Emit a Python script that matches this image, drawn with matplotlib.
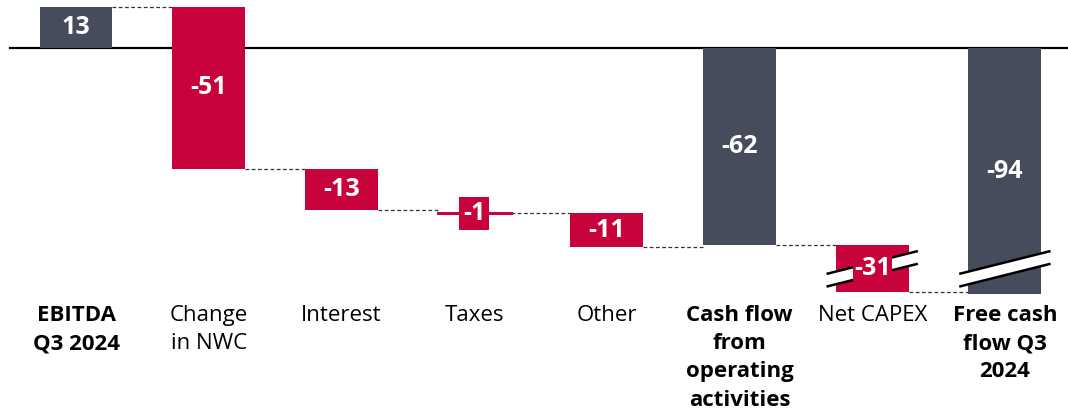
import matplotlib.pyplot as plt

# data (EUR m)
categories = ['EBITDA\nQ3 2024', 'Change\nin NWC', 'Interest', 'Taxes', 'Other',
              'Cash flow\nfrom\noperating\nactivities', 'Net CAPEX', 'Free cash\nflow Q3\n2024']
values = [13, -51, -13, -1, -11, -62, -31, -94]
is_total = [True, False, False, False, False, True, False, True]
broken = [False, False, False, False, False, False, True, True]

RED = '#C8023B'
NAVY = '#474C5D'
BREAK_AT = -62      # values below this are squeezed
SQUEEZE = 0.48


def disp(v):
    # squeeze the part of the scale below the break
    return v if v >= BREAK_AT else BREAK_AT + (v - BREAK_AT) * SQUEEZE


plt.rcParams['font.family'] = ['Open Sans', 'DejaVu Sans']

fig = plt.figure(figsize=(10.68, 4.16), dpi=100)
ax = fig.add_axes([0, 0, 1, 1])
ax.axis('off')

# pixel-like frame: category i sits at 76 + 132.7*i px, zero at 48 px, 3.18 px per unit
step, x0, y0, ppu = 132.7, 76, 48, 3.18
ax.set_xlim(-x0 / step, (1068 - x0) / step)
ax.set_ylim(-(416 - y0) / ppu, y0 / ppu)

width = 0.55
ax.plot([(10 - x0) / step, (1068 - x0) / step], [0, 0], color='black', lw=1.6, zorder=1)

running = 0
prev_end = None
for i, (cat, v) in enumerate(zip(categories, values)):
    if is_total[i]:
        start, end = 0, v
    else:
        start, end = running, running + v
    running = end
    top, bot = disp(max(start, end)), disp(min(start, end))
    colour = NAVY if is_total[i] else RED
    h = top - bot
    if abs(v) <= 1:
        ax.plot([i - width / 2, i + width / 2], [disp(end), disp(end)], color=RED, lw=2.2, zorder=3)
        cy = disp(end)
        box = dict(boxstyle='square,pad=0.15', fc=RED, ec='none')
    else:
        ax.bar(i, h, bottom=bot, width=width, color=colour, zorder=2)
        cy = (top + bot) / 2
        box = dict(boxstyle='square,pad=0.05', fc=colour, ec='none') if broken[i] else None

    # dashed connector from previous bar
    if prev_end is not None:
        lvl = disp(start) if not is_total[i] else disp(prev_end)
        ax.plot([i - 1 + width / 2, i - width / 2], [lvl, lvl], color='#333333',
                lw=0.9, ls=(0, (3, 2)), zorder=1)
    prev_end = end

    # break marks
    if broken[i]:
        yb = (BREAK_AT + disp(-93)) / 2
        x1, x2 = i - width / 2 - 0.06, i + width / 2 + 0.06
        slope, gap = 7.0, 4.0
        ya, yb2 = yb - slope / 2, yb + slope / 2
        ax.fill([x1, x2, x2, x1], [ya + gap / 2, yb2 + gap / 2, yb2 - gap / 2, ya - gap / 2],
                color='white', zorder=3, lw=0)
        ax.plot([x1, x2], [ya + gap / 2, yb2 + gap / 2], color='black', lw=1.8, zorder=4)
        ax.plot([x1, x2], [ya - gap / 2, yb2 - gap / 2], color='black', lw=1.8, zorder=4)

    ax.text(i, cy, f'{v}', ha='center', va='center', color='white', fontsize=18,
            fontweight='bold', zorder=5, bbox=box)

    ax.text(i, -(305 - y0) / ppu, cat, ha='center', va='top', fontsize=16,
            fontweight='bold' if is_total[i] else 'normal', color='black', linespacing=1.45)

fig.savefig('out.png', dpi=100)
